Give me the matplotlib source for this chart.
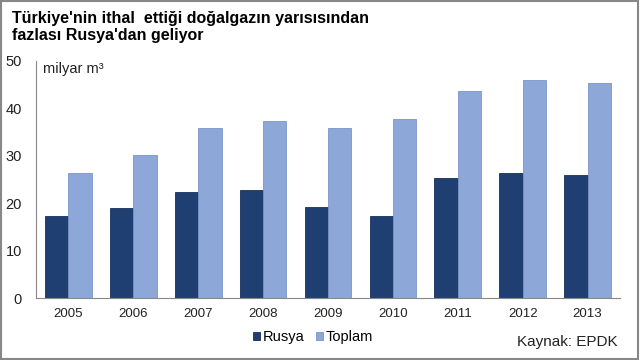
import matplotlib
matplotlib.use("Agg")
import matplotlib.pyplot as plt
import numpy as np
from matplotlib.patches import Rectangle

plt.rcParams['font.family'] = ['Liberation Sans', 'DejaVu Sans']

years = ['2005', '2006', '2007', '2008', '2009', '2010', '2011', '2012', '2013']
rusya = [17.3, 19.0, 22.4, 22.8, 19.2, 17.3, 25.3, 26.4, 25.9]
toplam = [26.4, 30.2, 35.9, 37.3, 35.9, 37.8, 43.7, 46.0, 45.4]

fig = plt.figure(figsize=(6.4, 3.6), dpi=100)
ax = fig.add_axes([36/640, 1-298/360, 584/640, 237/360])

x = np.arange(len(years))
w = 0.36
ax.bar(x - w/2, rusya, w, color='#1F3F72', edgecolor='#17305a', linewidth=0.6, label='Rusya')
ax.bar(x + w/2, toplam, w, color='#8DA8D8', edgecolor='#7a95c6', linewidth=0.6, label='Toplam')

ax.set_xlim(-0.5, len(years) - 0.5)
ax.set_ylim(0, 50)
ax.set_yticks(range(0, 51, 10))
ax.set_xticks(x)
ax.set_xticklabels(years)
for s in ['top', 'right']:
    ax.spines[s].set_visible(False)
for s in ['left', 'bottom']:
    ax.spines[s].set_color('#888888')
ax.tick_params(axis='y', length=0, labelsize=10.5, colors='#222222', pad=10)
ax.tick_params(axis='x', length=0, labelsize=9.5, colors='#222222', pad=7)

ax.text(0.012, 0.995, 'milyar m³', transform=ax.transAxes, fontsize=10.5, va='top', ha='left', color='#222222')

fig.text(12/640, 1-27/360, "Türkiye'nin ithal  ettiği doğalgazın yarısısından\nfazlası Rusya'dan geliyor",
         fontsize=11.5, fontweight='bold', va='center', ha='left', linespacing=1.2)

leg = fig.legend(loc='center', bbox_to_anchor=(313/640, 1-337/360), ncol=2, frameon=False,
                 fontsize=10.5, handlelength=0.5, handleheight=0.5, handletextpad=0.15, columnspacing=0.8)

fig.text(618/640, 1-342/360, 'Kaynak: EPDK', fontsize=11, ha='right', va='center', color='#222222')

fig.add_artist(Rectangle((0.002, 0.003), 0.995, 0.993, transform=fig.transFigure,
                         fill=False, edgecolor='#888888', linewidth=1.5))

fig.savefig('out.png', dpi=100)
